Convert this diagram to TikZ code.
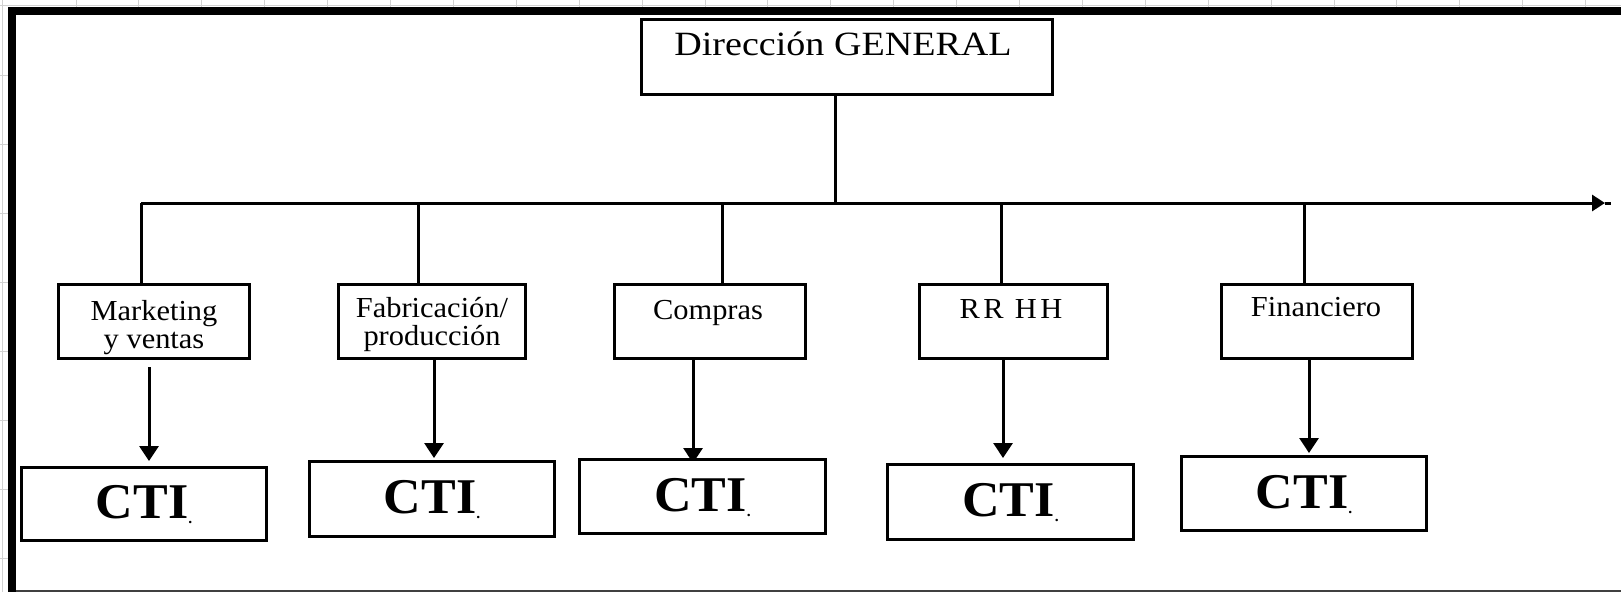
\documentclass[tikz,border=0pt]{standalone}
\usepackage{fontspec}
\setmainfont{Liberation Serif}
\newfontfamily\topfont[FakeStretch=1.12]{Liberation Serif}
\newfontfamily\lvfont[FakeStretch=1.05]{Liberation Serif}
\newfontfamily\ctifont[FakeStretch=1.04]{Liberation Serif}
\newcommand{\ctidot}{\raisebox{-5pt}{\fontsize{15}{15}\selectfont\bfseries .}}
\usetikzlibrary{arrows.meta}
\begin{document}
\begin{tikzpicture}[x=1pt,y=-1pt,
  box/.style={draw, line width=3.2pt, inner sep=0pt, fill=white},
  lvbox/.style={box, minimum height=74pt},
  ctibox/.style={box, minimum width=245pt, minimum height=74pt,
    font=\ctifont\bfseries\fontsize{50}{52}\selectfont, text height=31pt, text depth=2pt},
  conn/.style={line width=3pt},
  arr/.style={line width=3pt, -{Triangle[length=15pt,width=19pt]}},
  busarr/.style={line width=3pt, -{Triangle[length=13pt,width=16pt]}},
  lvtext/.style={font=\lvfont\fontsize{29}{28}\selectfont, inner sep=0pt, anchor=base},
  gridc/.style={line width=1pt, black!18}]
% canvas
\useasboundingbox (0,0) rectangle (1621,592);
\fill[white] (0,0) rectangle (1621,592);
% spreadsheet grid visible outside the frame
\foreach \i in {0,...,24} \draw[gridc] ({76+62.9*\i},0) -- ({76+62.9*\i},7);
\foreach \j in {0,...,7} \draw[gridc] (0,{75+69*\j}) -- (8,{75+69*\j});
\draw[gridc] (0,5.5) -- (1621,5.5);
\draw[gridc] (2,0) -- (2,592);
% frame
\fill[black] (8,7) rectangle (1621,15);
\fill[black] (8,7) rectangle (16,592);
\draw[line width=2pt, black!75] (16,590.5) -- (1621,590.5);

% top box
\node[box, minimum width=411pt, minimum height=75pt] (dg) at (847,57) {};
\node[font=\topfont\fontsize{34}{40}\selectfont, inner sep=0pt, anchor=base] (dgt) at (843,55) {Dirección GENERAL};

% second level boxes
\node[lvbox, minimum width=191pt] (mk) at (154,321.5) {};
\node[lvbox, minimum width=187pt] (fa) at (432,321.5) {};
\node[lvbox, minimum width=191pt] (co) at (710,321.5) {};
\node[lvbox, minimum width=188pt] (rh) at (1013.5,321.5) {};
\node[lvbox, minimum width=191pt] (fi) at (1317,321.5) {};

\node[lvtext] (mkt) at (154,320) {\begin{tabular}[t]{@{}c@{}}Marketing\\y ventas\end{tabular}};
\node[lvtext] (fat) at (432,317) {\begin{tabular}[t]{@{}c@{}}Fabricación/\\producción\end{tabular}};
\node[lvtext] (cot) at (708,319) {Compras};
\node[lvtext, font=\lvfont\fontsize{29}{28}\selectfont\addfontfeature{LetterSpace=12}] (rht) at (1011,318) {RR HH};
\node[lvtext] (fit) at (1316,316) {Financiero};

% bus
\coordinate (jt) at (835,203);
\coordinate (j1) at (141,203);
\coordinate (j2) at (418,203);
\coordinate (j3) at (722,203);
\coordinate (j4) at (1001,203);
\coordinate (j5) at (1304,203);
\coordinate (bend) at (1605,203);
\coordinate (bstub) at (1611,203);
\draw[conn] (jt |- dg.south) -- (jt);
\draw[busarr] (j1) -- (bend);
\draw[conn] (bend) -- (bstub);
\draw[conn] (j1) -- (j1 |- mk.north);
\draw[conn] (j2) -- (j2 |- fa.north);
\draw[conn] (j3) -- (j3 |- co.north);
\draw[conn] (j4) -- (j4 |- rh.north);
\draw[conn] (j5) -- (j5 |- fi.north);

% arrows down to CTI boxes
\coordinate (t1) at (149,461);
\coordinate (t2) at (434,458);
\coordinate (t3) at (693,463);
\coordinate (t4) at (1003,458);
\coordinate (t5) at (1309,453);
\draw[arr, shorten <=7pt] (mk.south -| t1) -- (t1);
\draw[arr] (fa.south -| t2) -- (t2);
\draw[arr] (co.south -| t3) -- (t3);
\draw[arr] (rh.south -| t4) -- (t4);
\draw[arr] (fi.south -| t5) -- (t5);

% CTI boxes
\node[ctibox, minimum height=73pt] (c1) at (144,504) {CTI\ctidot};
\node[ctibox, minimum height=75pt] (c2) at (432,499) {CTI\ctidot};
\node[ctibox, minimum width=246pt] (c3) at (702.5,496.5) {CTI\ctidot};
\node[ctibox, minimum width=246pt, minimum height=75pt] (c4) at (1010.5,502) {CTI\ctidot};
\node[ctibox] (c5) at (1304,493.5) {CTI\ctidot};
\end{tikzpicture}
\end{document}
